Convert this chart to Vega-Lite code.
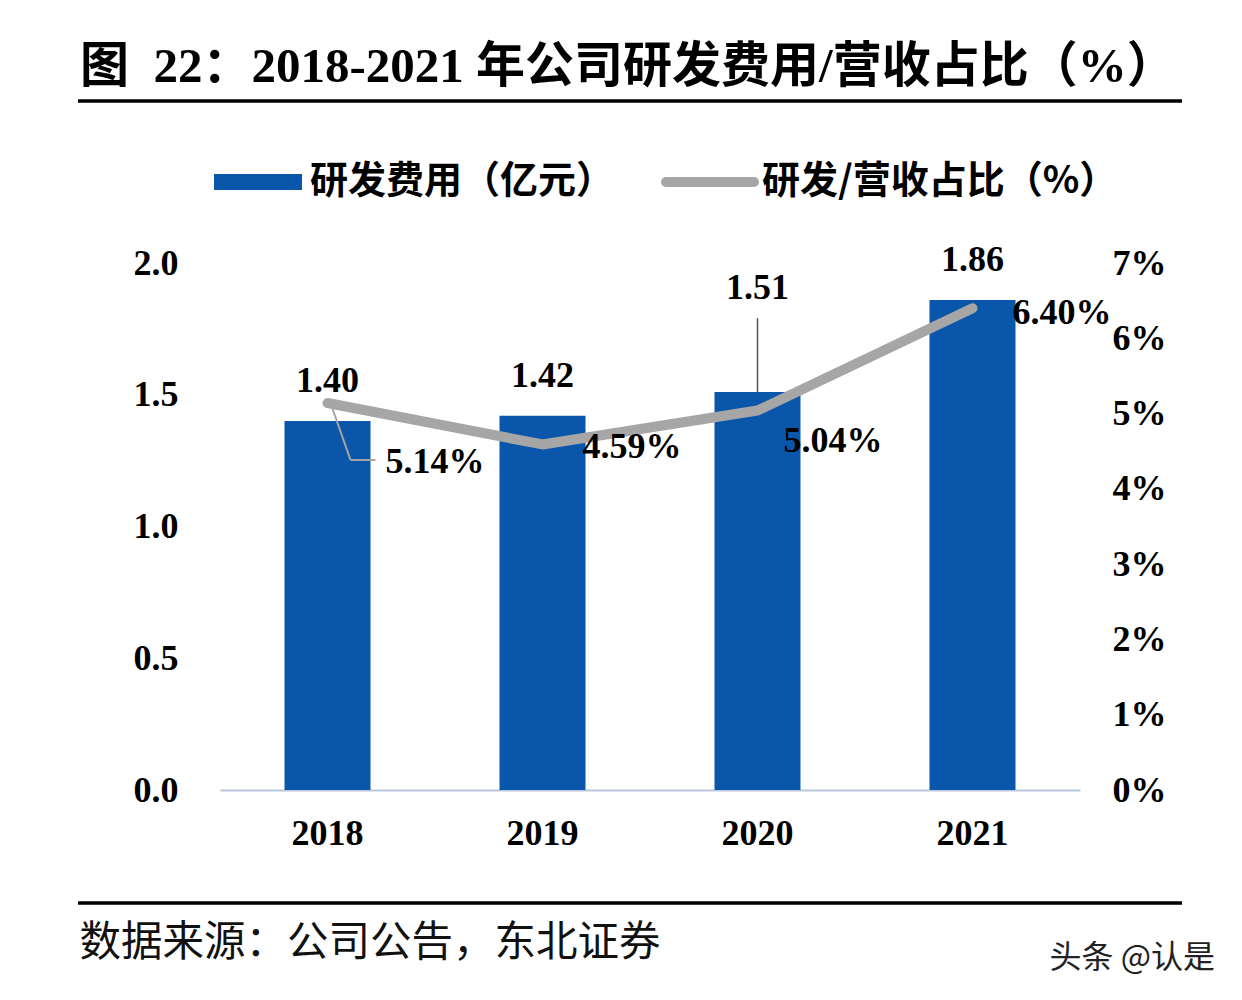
{
  "$schema": "https://vega.github.io/schema/vega-lite/v6.json",
  "width": 860,
  "height": 527,
  "autosize": {"type": "none"},
  "padding": {"left": 220, "top": 263, "right": 162, "bottom": 210},
  "background": "white",
  "config": {"view": {"stroke": null}},
  "title": {
    "text": "图\u00a0\u00a022：2018-2021 年公司研发费用/营收占比（%）",
    "anchor": "start",
    "frame": "group",
    "orient": "top",
    "dx": -140,
    "dy": 21,
    "font": "Liberation Serif, Noto Sans CJK SC",
    "fontSize": 49,
    "fontWeight": "bold",
    "color": "#000000",
    "baseline": "middle"
  },
  "data": {
    "values": [
      {"year": "2018", "rd": 1.40, "ratio": 5.14},
      {"year": "2019", "rd": 1.42, "ratio": 4.59},
      {"year": "2020", "rd": 1.51, "ratio": 5.04},
      {"year": "2021", "rd": 1.86, "ratio": 6.40}
    ]
  },
  "transform": [{"calculate": "format(datum.ratio, '.2f') + '%'", "as": "ratio_label"}],
  "encoding": {
    "x": {
      "field": "year",
      "type": "nominal",
      "scale": {"paddingInner": 0.6, "paddingOuter": 0.3},
      "axis": {
        "labelAngle": 0,
        "labelFont": "Liberation Serif",
        "labelFontWeight": "bold",
        "labelFontSize": 36,
        "labelColor": "#000000",
        "labelPadding": 26,
        "ticks": false,
        "domainColor": "#b8c8da",
        "domainWidth": 2,
        "title": "数据来源：公司公告，东北证券",
        "titleFont": "Noto Sans CJK SC",
        "titleFontWeight": "normal",
        "titleFontSize": 41.5,
        "titleColor": "#111111",
        "titleAnchor": "start",
        "titleAlign": "left",
        "titleBaseline": "middle",
        "titleX": -141,
        "titleY": 153
      }
    }
  },
  "layer": [
    {
      "mark": {"type": "bar", "color": "#0a56aa"},
      "encoding": {
        "y": {
          "field": "rd",
          "type": "quantitative",
          "scale": {"domain": [0, 2]},
          "axis": {
            "orient": "left",
            "values": [0, 0.5, 1, 1.5, 2],
            "format": ".1f",
            "grid": false,
            "domain": false,
            "ticks": false,
            "labelFont": "Liberation Serif",
            "labelFontWeight": "bold",
            "labelFontSize": 36,
            "labelColor": "#000000",
            "labelPadding": 42,
            "title": null
          }
        },
        "color": {
          "datum": "研发费用（亿元）",
          "type": "nominal",
          "scale": {
            "domain": ["研发费用（亿元）", "研发/营收占比（%）"],
            "range": ["#0a56aa", "#a6a6a6"]
          },
          "legend": {
            "orient": "none",
            "direction": "horizontal",
            "legendX": 19,
            "legendY": -100,
            "title": null,
            "gridAlign": "none",
            "symbolType": "stroke",
            "symbolSize": 7744,
            "symbolStrokeWidth": 10,
            "labelFont": "Noto Sans CJK SC",
            "labelFontWeight": "bold",
            "labelFontSize": 38,
            "labelColor": "#000000",
            "labelOffset": 33,
            "columnPadding": 31,
            "labelLimit": 0,
            "encode": {
              "symbols": {
                "update": {
                  "fill": {"value": "transparent"},
                  "stroke": {"signal": "scale('color', datum.value)"},
                  "strokeWidth": {"signal": "datum.value === '研发费用（亿元）' ? 16 : 10"},
                  "strokeCap": {"signal": "datum.value === '研发费用（亿元）' ? 'butt' : 'round'"},
                  "opacity": {"value": 1}
                }
              }
            }
          }
        }
      }
    },
    {
      "transform": [{"filter": "datum.year !== '2020'"}],
      "mark": {
        "type": "text",
        "font": "Liberation Serif",
        "fontWeight": "bold",
        "fontSize": 36,
        "color": "#000000",
        "baseline": "middle",
        "dy": -40
      },
      "encoding": {
        "y": {"field": "rd", "type": "quantitative", "scale": {"domain": [0, 2]}, "axis": null},
        "text": {"field": "rd", "type": "quantitative", "format": ".2f"}
      }
    },
    {
      "transform": [{"filter": "datum.year === '2020'"}],
      "mark": {
        "type": "text",
        "font": "Liberation Serif",
        "fontWeight": "bold",
        "fontSize": 36,
        "color": "#000000",
        "baseline": "middle",
        "dy": -104
      },
      "encoding": {
        "y": {"field": "rd", "type": "quantitative", "scale": {"domain": [0, 2]}, "axis": null},
        "text": {"field": "rd", "type": "quantitative", "format": ".2f"}
      }
    },
    {
      "transform": [{"filter": "datum.year === '2020'"}],
      "mark": {"type": "rule", "color": "#555555", "strokeWidth": 1.5, "y2Offset": -74},
      "encoding": {
        "y": {"field": "rd", "type": "quantitative", "scale": {"domain": [0, 2]}, "axis": null},
        "y2": {"field": "rd"}
      }
    },
    {
      "mark": {"type": "line", "color": "#a6a6a6", "strokeWidth": 10, "strokeCap": "round", "strokeJoin": "round"},
      "encoding": {
        "y": {
          "field": "ratio",
          "type": "quantitative",
          "scale": {"domain": [0, 7]},
          "axis": {
            "orient": "right",
            "values": [0, 1, 2, 3, 4, 5, 6, 7],
            "labelExpr": "datum.value + '%'",
            "grid": false,
            "domain": false,
            "ticks": false,
            "labelFont": "Liberation Serif",
            "labelFontWeight": "bold",
            "labelFontSize": 36,
            "labelColor": "#000000",
            "labelPadding": 32,
            "title": "头条 @认是",
            "titleFont": "Noto Sans CJK SC",
            "titleFontWeight": "normal",
            "titleFontSize": 32,
            "titleColor": "#222222",
            "titleAngle": 0,
            "titleAlign": "left",
            "titleBaseline": "middle",
            "titleX": -31,
            "titleY": 694
          }
        },
        "color": {"datum": "研发/营收占比（%）", "type": "nominal"}
      }
    },
    {
      "transform": [{"filter": "datum.year === '2018'"}],
      "mark": {"type": "rule", "color": "#a6a6a6", "strokeWidth": 2, "xOffset": 3, "x2Offset": 23, "y2Offset": 57},
      "encoding": {
        "x": {"field": "year", "type": "nominal", "bandPosition": 0.5},
        "x2": {"field": "year", "bandPosition": 0.5},
        "y": {"field": "ratio", "type": "quantitative", "scale": {"domain": [0, 7]}, "axis": null},
        "y2": {"field": "ratio"}
      }
    },
    {
      "transform": [{"filter": "datum.year === '2018'"}],
      "mark": {"type": "rule", "color": "#a6a6a6", "strokeWidth": 2, "xOffset": 23, "x2Offset": 48, "yOffset": 57, "y2Offset": 57},
      "encoding": {
        "x": {"field": "year", "type": "nominal", "bandPosition": 0.5},
        "x2": {"field": "year", "bandPosition": 0.5},
        "y": {"field": "ratio", "type": "quantitative", "scale": {"domain": [0, 7]}, "axis": null},
        "y2": {"field": "ratio"}
      }
    },
    {
      "transform": [{"filter": "datum.year === '2018'"}],
      "mark": {"type": "text", "font": "Liberation Serif", "fontWeight": "bold", "fontSize": 36, "color": "#000000", "align": "left", "baseline": "middle", "dx": 58, "dy": 59},
      "encoding": {
        "y": {"field": "ratio", "type": "quantitative", "scale": {"domain": [0, 7]}, "axis": null},
        "text": {"field": "ratio_label", "type": "nominal"}
      }
    },
    {
      "transform": [{"filter": "datum.year === '2019'"}],
      "mark": {"type": "text", "font": "Liberation Serif", "fontWeight": "bold", "fontSize": 36, "color": "#000000", "align": "left", "baseline": "middle", "dx": 40, "dy": 3},
      "encoding": {
        "y": {"field": "ratio", "type": "quantitative", "scale": {"domain": [0, 7]}, "axis": null},
        "text": {"field": "ratio_label", "type": "nominal"}
      }
    },
    {
      "transform": [{"filter": "datum.year === '2020'"}],
      "mark": {"type": "text", "font": "Liberation Serif", "fontWeight": "bold", "fontSize": 36, "color": "#000000", "align": "left", "baseline": "middle", "dx": 26, "dy": 30},
      "encoding": {
        "y": {"field": "ratio", "type": "quantitative", "scale": {"domain": [0, 7]}, "axis": null},
        "text": {"field": "ratio_label", "type": "nominal"}
      }
    },
    {
      "transform": [{"filter": "datum.year === '2021'"}],
      "mark": {"type": "text", "font": "Liberation Serif", "fontWeight": "bold", "fontSize": 36, "color": "#000000", "align": "left", "baseline": "middle", "dx": 40, "dy": 5},
      "encoding": {
        "y": {"field": "ratio", "type": "quantitative", "scale": {"domain": [0, 7]}, "axis": null},
        "text": {"field": "ratio_label", "type": "nominal"}
      }
    },
    {
      "data": {"values": [{"edge": "top"}, {"edge": "bottom"}]},
      "mark": {"type": "rule", "color": "#000000", "strokeWidth": 3.5},
      "encoding": {
        "x": {"value": -142},
        "x2": {"value": 962},
        "y": {"field": "edge", "type": "nominal", "scale": {"type": "point", "padding": 0, "domain": ["top", "bottom"], "range": [-162, 640]}, "axis": null}
      }
    }
  ],
  "resolve": {"scale": {"y": "independent"}}
}
